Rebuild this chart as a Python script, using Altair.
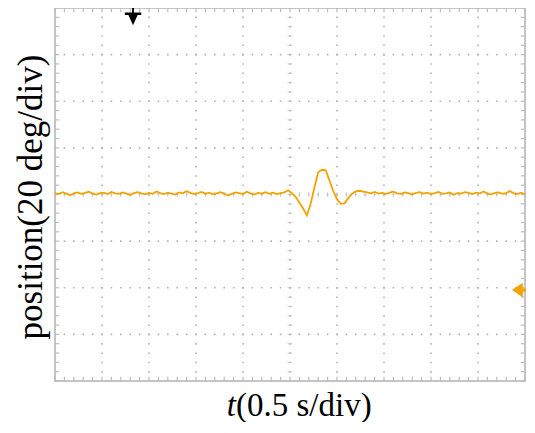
import altair as alt
import pandas as pd

# ---------------- data ----------------
dt = 0.04  # s, sampling step of the trace
pre_noise = [0.6, 0.2, 1.0, 0.4, -0.3, 0.5, 0.9, 0.3, 0.7, 1.2,
             0.4, 0.0, 0.6, 0.8, 0.2, 1.1, 0.5, 0.3, 0.9, 0.4,
             -0.2, 0.6, 1.0, 0.5, 0.1, 0.7, 0.3, 1.3, 0.6, 0.2,
             0.8, 0.4, 0.0, 0.9, 0.5, 1.4, 0.7, 0.2, 0.6, 1.1,
             0.3, 0.8, 0.1, 0.5, 1.0, 0.4, -0.4, 0.3, 0.9, 0.6,
             0.2, 1.2, 0.5, 0.0, 0.7, 0.4, 1.0, 0.3, 0.8, 0.2,
             0.6, 0.9]
disturbance = [1.8, 0.6, -1.0, -3.5, -6.0, -8.9, -4.0, 3.0, 9.5, 10.6,
               10.4, 6.0, 1.5, -2.0, -4.0, -3.8, -1.5, 0.3, 1.3, 1.6, 1.2]
post_noise = [0.9, 0.5, 1.1, 0.4, 0.7, 0.2, 0.8, 1.2, 0.5, 0.3,
              0.9, 0.6, 0.0, 0.7, 1.0, 0.4, 0.8, 0.2, 0.6, 1.1,
              0.3, 0.5, 0.9, -0.1, 0.6, 0.4, 1.0, 0.7, 0.2, 0.8,
              0.5, 1.3, 0.4, 0.1, 0.7, 0.9, 0.3, 0.6, 1.5, 0.5,
              0.2, 0.8, 0.0]
position = pre_noise + disturbance + post_noise          # deg
time = [round(i * dt, 2) for i in range(len(position))]  # s

x_major = [0.5, 1.0, 1.5, 2.0, 2.5, 3.0, 3.5, 4.0, 4.5]   # s  (0.5 s/div)
y_major = [-60, -40, -20, 0, 20, 40, 60]                  # deg (20 deg/div)
x_minor = [round(0.1 * i, 1) for i in range(51)]
y_minor = [-80 + 4 * i for i in range(41)]

trigger_t = [0.83]
trigger_y = [80]
ground_t = [5.0]
ground_y = [-41]

X_DOM = [0, 5]
Y_DOM = [-80, 80]
W, H = 470, 373

GRID = "#b4b4b4"
TICK = "#bdbdbd"
TRACE = "#f2a300"

xs = alt.Scale(domain=X_DOM, nice=False, zero=False)
ys = alt.Scale(domain=Y_DOM, nice=False, zero=False)


def X(f):
    return alt.X(f, type="quantitative", scale=xs, axis=None)


def Y(f):
    return alt.Y(f, type="quantitative", scale=ys, axis=None)


vgrid = alt.Chart(pd.DataFrame({"x": x_major})).mark_rule(
    color=GRID, strokeWidth=1.6, strokeDash=[1.6, 7.73], strokeDashOffset=0.8
).encode(x=X("x"))

hgrid = alt.Chart(pd.DataFrame({"y": y_major})).mark_rule(
    color=GRID, strokeWidth=1.6, strokeDash=[1.6, 7.8], strokeDashOffset=0.8
).encode(y=Y("y"))

cx = alt.Chart(pd.DataFrame({"x": x_minor, "y": [0] * len(x_minor)})).mark_tick(
    orient="vertical", size=5, thickness=1, color=TICK
).encode(x=X("x"), y=Y("y"))

cy = alt.Chart(pd.DataFrame({"y": y_minor, "x": [2.5] * len(y_minor)})).mark_tick(
    orient="horizontal", size=5, thickness=1, color=TICK
).encode(x=X("x"), y=Y("y"))

bottom_t = alt.Chart(pd.DataFrame({"x": x_minor, "y": [-80] * len(x_minor), "y2": [-78.2] * len(x_minor)})).mark_rule(
    color=TICK, strokeWidth=1.2).encode(x=X("x"), y=Y("y"), y2="y2")
top_t = alt.Chart(pd.DataFrame({"x": x_minor, "y": [80] * len(x_minor), "y2": [78.2] * len(x_minor)})).mark_rule(
    color=TICK, strokeWidth=1.2).encode(x=X("x"), y=Y("y"), y2="y2")
left_t = alt.Chart(pd.DataFrame({"y": y_minor, "x": [0] * len(y_minor), "x2": [0.045] * len(y_minor)})).mark_rule(
    color=TICK, strokeWidth=1.2).encode(x=X("x"), x2="x2", y=Y("y"))
right_t = alt.Chart(pd.DataFrame({"y": y_minor, "x": [5] * len(y_minor), "x2": [4.955] * len(y_minor)})).mark_rule(
    color=TICK, strokeWidth=1.2).encode(x=X("x"), x2="x2", y=Y("y"))

trace = alt.Chart(pd.DataFrame({"t": time, "pos": position})).mark_line(
    color=TRACE, strokeWidth=1.8
).encode(x=X("t"), y=Y("pos"))

trig_path = ("M -0.09 -1 L 0.09 -1 L 0.09 -0.25 L 0.8 -0.25 L 0.8 0 L 0.45 0 L 0 1 "
             "L -0.45 0 L -0.8 0 L -0.8 -0.25 L -0.09 -0.25 Z")
trigger = alt.Chart(pd.DataFrame({"t": trigger_t, "y": trigger_y})).mark_point(
    shape=trig_path, filled=True, color="black", opacity=1, size=420, yOffset=7
).encode(x=X("t"), y=Y("y"))

gnd_path = "M -1 0 L 0.2 -0.8 L 0.2 -0.18 L 1 -0.18 L 1 0.18 L 0.2 0.18 L 0.2 0.8 Z"
ground = alt.Chart(pd.DataFrame({"t": ground_t, "y": ground_y})).mark_point(
    shape=gnd_path, filled=True, color=TRACE, opacity=1, size=330, xOffset=-4
).encode(x=X("t"), y=Y("y"))

one = pd.DataFrame({"a": [0]})
FONT = "Liberation Serif"
xt_italic = alt.Chart(one).mark_text(
    font=FONT, fontSize=33, fontStyle="italic", align="right", baseline="alphabetic", color="black"
).encode(x=alt.value(181), y=alt.value(408), text=alt.value("t"))
xt_rest = alt.Chart(one).mark_text(
    font=FONT, fontSize=33, align="left", baseline="alphabetic", color="black"
).encode(x=alt.value(181), y=alt.value(408), text=alt.value("(0.5 s/div)"))
yt = alt.Chart(one).mark_text(
    font=FONT, fontSize=35, angle=270, align="center", baseline="middle", color="black"
).encode(x=alt.value(-24), y=alt.value(189), text=alt.value("position(20 deg/div)"))

chart = alt.layer(
    vgrid, hgrid, cx, cy, bottom_t, top_t, left_t, right_t, trace, trigger, ground,
    xt_italic, xt_rest, yt
).properties(
    width=W, height=H,
    autosize=alt.AutoSizeParams(type="none"),
    padding={"left": 47, "top": 0, "right": 1, "bottom": 41},
    background="white",
).configure_view(stroke="#c4c4c4", strokeWidth=2)

chart.save("out.html", embed_options={"renderer": "svg", "actions": False})
